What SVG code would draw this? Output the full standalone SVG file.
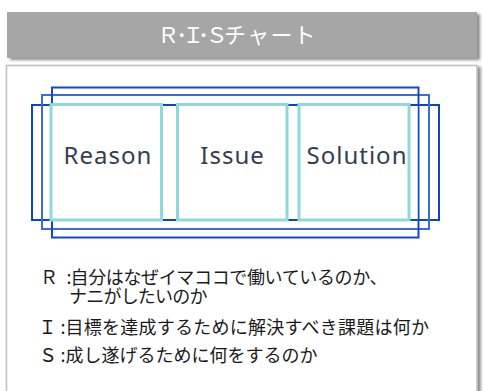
<svg xmlns="http://www.w3.org/2000/svg" width="483" height="391" viewBox="0 0 483 391">
  <defs>
    <filter id="shadow" x="-5%" y="-5%" width="112%" height="115%">
      <feDropShadow dx="3" dy="2" stdDeviation="1.6" flood-color="#000" flood-opacity="0.45"/>
    </filter>
    <style>
      .frame { fill: none; stroke-width: 2; }
      .cell { fill: #fff; stroke: #8ed9dc; stroke-width: 3; }
      .label { font-family: "Noto Sans", "Open Sans", sans-serif; font-size: 24px; fill: #333e4f; letter-spacing: 1px; text-anchor: middle; }
      .body { font-family: "Noto Sans CJK JP", "Noto Sans", sans-serif; font-size: 18px; fill: #1a1a1a; }
      .title { font-family: "Noto Sans CJK JP", "Noto Sans", sans-serif; font-size: 22px; fill: #ffffff; }
    </style>
  </defs>
  <rect width="483" height="391" fill="#fff"/>

  <g id="title">
    <rect x="7" y="12" width="470" height="46" fill="#a6a6a6" filter="url(#shadow)"/>
    <text class="title" y="43" x="157.3 176.2 182.3 198 205.7 224 247.2 270.4 293.6">Ｒ･Ｉ･Ｓチャート</text>
  </g>

  <g id="panel">
    <rect x="6.5" y="65.5" width="470.5" height="340" fill="#fff" stroke="#bfbfbf" stroke-width="1.5" filter="url(#shadow)"/>
  </g>

  <g id="frames">
    <rect class="frame" x="32" y="105" width="407" height="115" stroke="#0b45c6"/>
    <rect class="frame" x="42" y="95" width="387" height="134" stroke="#3d6bd9"/>
    <rect class="frame" x="52" y="87.5" width="366.5" height="150" stroke="#1448c8"/>
    <rect x="53" y="106" width="364.5" height="113" fill="#fff"/>
  </g>

  <g id="node-reason">
    <rect class="cell" x="51" y="104.5" width="110.5" height="115.5"/>
    <text class="label" x="108" y="164">Reason</text>
  </g>
  <g id="node-issue">
    <rect class="cell" x="177.5" y="104.5" width="109.5" height="115.5"/>
    <text class="label" x="232.5" y="164">Issue</text>
  </g>
  <g id="node-solution">
    <rect class="cell" x="299" y="104.5" width="110" height="115.5"/>
    <text class="label" x="357" y="164">Solution</text>
  </g>

  <g id="legend">
    <text class="body" y="284"><tspan x="40">Ｒ</tspan><tspan x="66.5">:</tspan><tspan x="70.5" textLength="317">自分はなぜイマココで働いているのか、</tspan></text>
    <text class="body" y="303" x="69" textLength="138.5">ナニがしたいのか</text>
    <text class="body" y="334"><tspan x="38.5">Ｉ</tspan><tspan x="60.5">:</tspan><tspan x="65.5" textLength="363.5">目標を達成するために解決すべき課題は何か</tspan></text>
    <text class="body" y="362"><tspan x="39">Ｓ</tspan><tspan x="60.5">:</tspan><tspan x="65.5" textLength="252">成し遂げるために何をするのか</tspan></text>
  </g>
</svg>
